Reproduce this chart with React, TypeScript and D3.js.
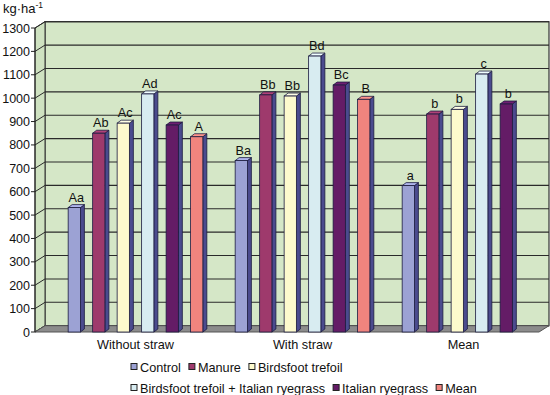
import React from "react";
import * as d3 from "d3";

const groups = ["Without straw", "With straw", "Mean"];
const seriesNames = [
  "Control",
  "Manure",
  "Birdsfoot trefoil",
  "Birdsfoot trefoil + Italian ryegrass",
  "Italian ryegrass",
  "Mean",
];
const seriesColors = ["#9ca2d4", "#9e3a6c", "#fdfacd", "#d8ecf1", "#641c66", "#f0847e"];

// values per series, one per group (null = no bar)
const controlValues = [532, 733, 626];
const manureValues = [850, 1014, 932];
const trefoilValues = [893, 1009, 952];
const mixValues = [1018, 1180, 1103];
const ryegrassValues = [885, 1056, 975];
const meanValues = [835, 995, null];

const controlLabels = ["Aa", "Ba", "a"];
const manureLabels = ["Ab", "Bb", "b"];
const trefoilLabels = ["Ac", "Bb", "b"];
const mixLabels = ["Ad", "Bd", "c"];
const ryegrassLabels = ["Ac", "Bc", "b"];
const meanLabels = ["A", "B", ""];

const yTicks = d3.range(0, 1301, 100);

const allValues = [controlValues, manureValues, trefoilValues, mixValues, ryegrassValues, meanValues];
const allLabels = [controlLabels, manureLabels, trefoilLabels, mixLabels, ryegrassLabels, meanLabels];

const legendRows = [[0, 1, 2], [3, 4, 5]];

const W = 550;
const H = 395;
const font = "'Liberation Sans', Arial, sans-serif";

// 3D offsets
const depthX = 10;
const depthY = -6.3;
const barDX = 4;
const barDY = -3;

const frontLeft = 35;
const frontRight = 539;

export default function App() {
  const y = d3.scaleLinear().domain([0, 1300]).range([332, 28]);
  const x0 = d3.scaleBand().domain(groups).range([52, 553]);
  const x1 = d3.scaleBand<number>()
    .domain(d3.range(seriesNames.length))
    .range([0, x0.bandwidth()])
    .paddingInner(0.5)
    .paddingOuter(0.66);

  const measure = (t: string) => {
    const ctx = document.createElement("canvas").getContext("2d");
    if (!ctx) return t.length * 6.5;
    ctx.font = `12.7px ${font}`;
    return ctx.measureText(t).width;
  };

  const bars: any[] = [];
  groups.forEach((g, gi) => {
    allValues.forEach((vals, si) => {
      const v = vals[gi];
      if (v == null) return;
      bars.push({ g, gi, si, v, label: allLabels[si][gi] });
    });
  });

  const bw = x1.bandwidth();
  const y0 = y(0);

  return (
    <svg width={W} height={H} style={{ position: "absolute", left: 0, top: 0, background: "#fff" }}>
      {/* back wall */}
      <rect x={frontLeft + depthX} y={y(1300) + depthY} width={W - 1 - frontLeft - depthX}
        height={y(0) - y(1300)} fill="#d5e7c7" stroke="#333" strokeWidth={1.2} />
      {/* left wall */}
      <polygon
        points={`${frontLeft},${y(1300)} ${frontLeft + depthX},${y(1300) + depthY} ${frontLeft + depthX},${y0 + depthY} ${frontLeft},${y0}`}
        fill="#cfe2c1" stroke="#333" strokeWidth={1} />
      {/* gridlines */}
      {yTicks.map((t) => (
        <g key={t}>
          <line x1={frontLeft} y1={y(t)} x2={frontLeft + depthX} y2={y(t) + depthY} stroke="#2a2a2a" strokeWidth={1} />
          <line x1={frontLeft + depthX} y1={y(t) + depthY} x2={W - 1} y2={y(t) + depthY} stroke="#2a2a2a" strokeWidth={1.1} />
        </g>
      ))}
      {/* floor */}
      <polygon
        points={`${frontLeft},${y0} ${frontLeft + depthX},${y0 + depthY} ${W - 1},${y0 + depthY} ${frontRight},${y0}`}
        fill="#8c8c8c" stroke="#555" strokeWidth={1} />
      {/* y axis */}
      <line x1={frontLeft} y1={y(1300)} x2={frontLeft} y2={y0} stroke="#222" strokeWidth={1} />
      {yTicks.map((t) => (
        <g key={"t" + t}>
          <line x1={frontLeft - 4} y1={y(t)} x2={frontLeft} y2={y(t)} stroke="#222" strokeWidth={1} />
          <text x={frontLeft - 5} y={y(t)} dy="0.36em" textAnchor="end" fontFamily={font} fontSize={12.5} fill="#111">
            {t}
          </text>
        </g>
      ))}
      <text x={3} y={13} fontFamily={font} fontSize={13} fill="#111">
        kg·ha<tspan dy={-5} fontSize={8.5}>-1</tspan>
      </text>

      {/* bars */}
      {bars.map((b, i) => {
        const bx = (x0(b.g) as number) + (x1(b.si) as number);
        const by = y(b.v);
        const c = seriesColors[b.si];
        const top = d3.color(c)!.brighter(0.3).formatHex();
        return (
          <g key={i}>
            <polygon
              points={`${bx + bw},${by} ${bx + bw + barDX},${by + barDY} ${bx + bw + barDX},${y0 + barDY} ${bx + bw},${y0}`}
              fill="#4b4b8e" stroke="#1c1c40" strokeWidth={0.8} />
            <polygon
              points={`${bx},${by} ${bx + barDX},${by + barDY} ${bx + bw + barDX},${by + barDY} ${bx + bw},${by}`}
              fill={top} stroke="#1c1c40" strokeWidth={0.8} />
            <rect x={bx} y={by} width={bw} height={y0 - by} fill={c} stroke="#1c1c40" strokeWidth={0.8} />
            <text x={bx + (bw + barDX) / 2} y={by - 6} textAnchor="middle" fontFamily={font} fontSize={12.7} fill="#111">
              {b.label}
            </text>
          </g>
        );
      })}

      {/* category labels */}
      {groups.map((g, gi) => (
        <text key={g} x={(x0(g) as number) + x0.bandwidth() / 2 - (gi === 2 ? 6 : 0)} y={349} textAnchor="middle"
          fontFamily={font} fontSize={12.7} fill="#111">
          {g}
        </text>
      ))}

      {/* legend */}
      {legendRows.map((row, ri) => {
        let cx = 131;
        const cy = ri === 0 ? 367 : 388;
        return row.map((si) => {
          const xi = cx;
          cx += 9 + measure(seriesNames[si]) + 8;
          return (
            <g key={si}>
              <rect x={xi} y={cy - 3.5} width={6} height={6} fill={seriesColors[si]} stroke="#222" strokeWidth={1} />
              <text x={xi + 9} y={cy} dy="0.36em" fontFamily={font} fontSize={12.7} fill="#111">
                {seriesNames[si]}
              </text>
            </g>
          );
        });
      })}
    </svg>
  );
}
